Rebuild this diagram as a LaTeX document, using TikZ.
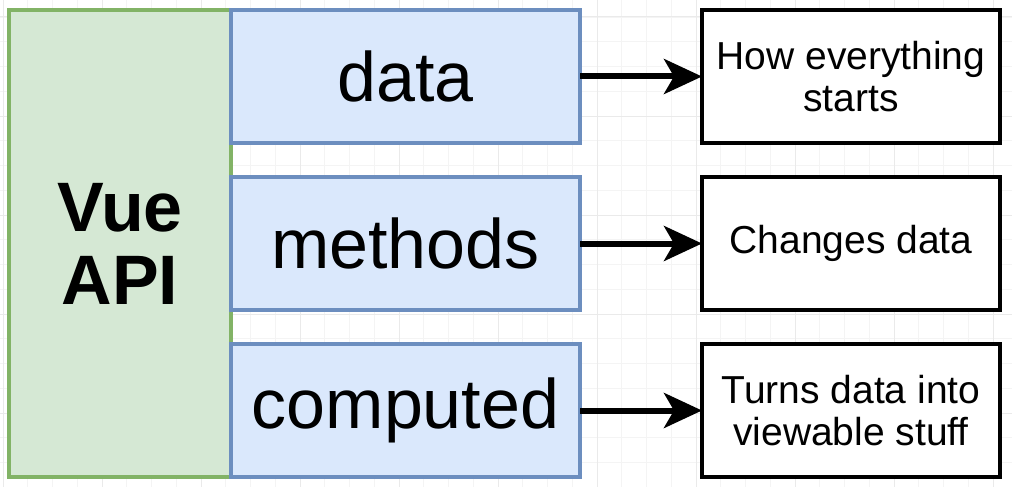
\documentclass[tikz,border=0pt]{standalone}
\usepackage{fontspec}
\setmainfont{Liberation Sans}
\usetikzlibrary{arrows.meta}
\definecolor{vgreenfill}{HTML}{D5E8D4}
\definecolor{vgreenline}{HTML}{82B366}
\definecolor{vbluefill}{HTML}{DAE8FC}
\definecolor{vblueline}{HTML}{6C8EBF}
\definecolor{gridminor}{HTML}{F4F4F4}
\definecolor{gridmajor}{HTML}{EAEAEA}
\tikzset{
  apibox/.style={draw=vgreenline, fill=vgreenfill, line width=4.5pt, inner sep=0pt, outer sep=0pt,
    minimum width=222pt, minimum height=467pt, align=center,
    font=\fontsize{70}{73}\selectfont\bfseries},
  partbox/.style={draw=vblueline, fill=vbluefill, line width=4pt, inner sep=0pt, outer sep=0pt,
    minimum width=349pt, minimum height=133pt, font=\fontsize{70}{73}\selectfont},
  descbox/.style={draw=black, fill=white, line width=4.5pt, inner sep=0pt, outer sep=0pt,
    minimum width=298pt, minimum height=133pt, align=center, font=\fontsize{39}{42}\selectfont},
  link/.style={line width=6pt, -{Stealth[length=38pt, width=35pt, inset=10pt]}}
}
\begin{document}
\begin{tikzpicture}[x=1pt, y=-1pt]
\useasboundingbox (0,0) rectangle (1012,487);
\fill[white] (0,0) rectangle (1012,487);
\draw[gridminor, line width=0.8pt, step=24.75pt, shift={(3,17)}] (-3,-17) grid (1012,487);
\draw[gridmajor, line width=1pt, step=99pt, shift={(3,17)}] (-3,-17) grid (1012,487);

\node[apibox] (api) at (120,243.5) {Vue\\API};
\node[partbox] (data) at (405.5,76.5) {data};
\node[partbox] (methods) at (405.5,243.5) {methods};
\node[partbox] (computed) at (405.5,410.5) {computed};

\node[descbox] (d1) at (851,76.5) {How everything\\starts};
\node[descbox] (d2) at (851,243.5) {Changes data};
\node[descbox] (d3) at (851,410.5) {Turns data into\\viewable stuff};

\draw[link] (data.east) -- (d1.west);
\draw[link] (methods.east) -- (d2.west);
\draw[link] (computed.east) -- (d3.west);
\end{tikzpicture}
\end{document}
